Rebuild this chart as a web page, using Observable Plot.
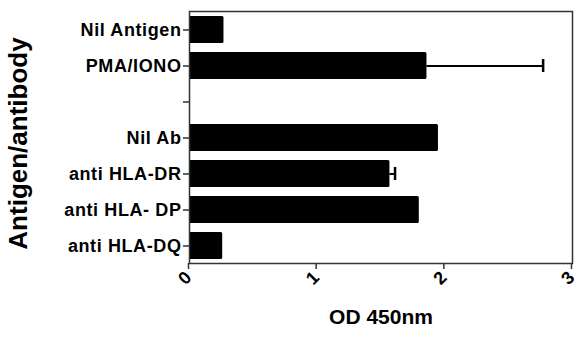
<!DOCTYPE html>
<html>
<head>
<meta charset="utf-8">
<script src="https://cdn.jsdelivr.net/npm/d3@7"></script>
<script src="https://cdn.jsdelivr.net/npm/@observablehq/plot@0.6"></script>
<style>
  body { margin: 0; background: #fff; }
  svg { font-family: "Liberation Sans", Arial, sans-serif; }
  g[aria-label="y-axis tick label"] text { letter-spacing: 0.6px; }
</style>
</head>
<body>
<div id="chart"></div>
<script>
const categories = ["Nil Antigen", "PMA/IONO", "", "Nil Ab", "anti HLA-DR", "anti HLA- DP", "anti HLA-DQ"];
const values = [0.27, 1.86, null, 1.95, 1.57, 1.80, 0.26];
const errors = [0, 0.91, null, 0, 0.04, 0, 0];
const xTicks = [0, 1, 2, 3];

const data = categories.map((c, i) => ({cat: c, value: values[i], err: errors[i]}))
  .filter(d => d.value != null);
const errData = data.filter(d => d.err > 0);

const chart = Plot.plot({
  width: 576,
  height: 337,
  marginLeft: 189,
  marginRight: 4,
  marginTop: 11,
  marginBottom: 74,
  style: {fontFamily: "Liberation Sans, Arial, sans-serif", fontWeight: "bold", color: "#000", background: "#fff", overflow: "visible"},
  x: {domain: [0, 3]},
  y: {domain: categories, paddingInner: 0.26, paddingOuter: 0.08},
  marks: [
    Plot.barX(data, {x: "value", y: "cat", fill: "#000", rx: 1.5}),
    Plot.ruleY(errData, {x1: "value", x2: d => d.value + d.err, y: "cat", stroke: "#000", strokeWidth: 2}),
    Plot.tickX(errData, {x: d => d.value + d.err, y: "cat", stroke: "#000", strokeWidth: 2.5, insetTop: 7, insetBottom: 7}),
    Plot.frame({stroke: "#333", strokeWidth: 1.5}),
    Plot.axisY({tickSize: 6, tickPadding: 2, fontSize: 18, fontWeight: "bold", label: null, stroke: "#333", strokeWidth: 1.5, fill: "#000"}),
    Plot.axisX({ticks: xTicks, tickFormat: d => String(d), tickSize: 6, tickRotate: -45, tickPadding: 5, fontSize: 18, fontWeight: "bold", label: null, stroke: "#333", strokeWidth: 1.5, fill: "#000", dx: -1}),
    Plot.text(["OD 450nm"], {frameAnchor: "bottom", dy: 60, fontSize: 21, fontWeight: "bold", fill: "#000"}),
    Plot.text(["Antigen/antibody"], {frameAnchor: "left", textAnchor: "middle", dx: -171, dy: 6, rotate: -90, fontSize: 26, fontWeight: "bold", fill: "#000"})
  ]
});
document.getElementById("chart").appendChild(chart);
</script>
</body>
</html>
